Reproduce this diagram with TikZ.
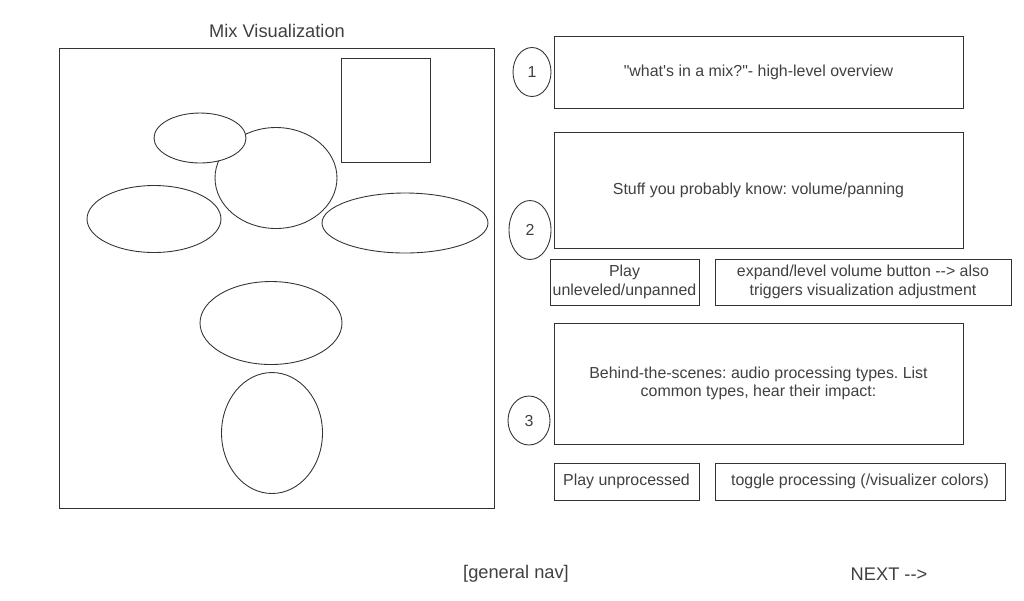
\documentclass[tikz,border=0pt]{standalone}
\usepackage{fontspec}
\setmainfont{Liberation Sans}[Ligatures=TeXOff]
\usetikzlibrary{shapes.geometric}
\definecolor{ink}{RGB}{51,51,51}
\definecolor{txt}{RGB}{64,64,64}
\frenchspacing
\begin{document}
\begin{tikzpicture}[x=0.02cm,y=-0.02cm,
  every node/.style={font=\fontsize{9.07pt}{10.6pt}\selectfont\frenchspacing, text=txt},
  big/.style={font=\fontsize{10.4pt}{12pt}\selectfont},
  box/.style={draw=ink, line width=0.5pt, rectangle, inner sep=0pt, align=center},
  oval/.style={draw=ink, line width=0.5pt, ellipse, inner sep=0pt, fill=white},
  lbl/.style={inner sep=0pt, align=center}]
\useasboundingbox (0,0) rectangle (1024,600);
% left panel
\node[lbl, big] (title) at (277,31) {Mix Visualization};
\node[draw=ink, line width=0.5pt, minimum width=8.7cm, minimum height=9.2cm, inner sep=0pt] (panel) at (276.5,278) {};
\node[draw=ink, line width=0.5pt, minimum width=1.78cm, minimum height=2.08cm, inner sep=0pt] (sq) at (385.5,110) {};
\node[oval, minimum width=2.44cm, minimum height=2.02cm] (bigc) at (276,178) {};
\node[oval, minimum width=1.84cm, minimum height=1.0cm] (small) at (200,138) {};
\node[oval, minimum width=2.68cm, minimum height=1.34cm] (left) at (154,219) {};
\node[oval, minimum width=3.32cm, minimum height=1.2cm] (right) at (405,223) {};
\node[oval, minimum width=2.84cm, minimum height=1.66cm] (mid) at (271,323) {};
\node[oval, minimum width=2.02cm, minimum height=2.42cm] (bot) at (272,433) {};
% right side
\node[oval, minimum width=0.76cm, minimum height=0.98cm] (c1) at (532,72) {1};
\node[box, minimum width=8.18cm, minimum height=1.44cm] (b1) at (758.5,72) {"what's in a mix?"- high-level overview};
\node[box, minimum width=8.18cm, minimum height=2.32cm] (b2) at (758.5,190) {Stuff you probably know: volume/panning};
\node[oval, minimum width=0.84cm, minimum height=1.18cm] (c2) at (530,230) {2};
\node[box, minimum width=2.98cm, minimum height=0.92cm] (play1) at (624.5,282) {Play\\unleveled/unpanned};
\node[box, minimum width=5.92cm, minimum height=0.92cm] (exp) at (863,282) {expand/level volume button --> also\\triggers visualization adjustment};
\node[box, minimum width=8.18cm, minimum height=2.42cm] (b3) at (758.5,383.5) {Behind-the-scenes: audio processing types. List\\common types, hear their impact:};
\node[oval, minimum width=0.84cm, minimum height=0.98cm] (c3) at (529,420.5) {3};
\node[box, minimum width=2.9cm, minimum height=0.74cm] (play2) at (626.5,481.5) {Play unprocessed};
\node[box, minimum width=5.8cm, minimum height=0.74cm] (tog) at (860,481.5) {toggle processing (/visualizer colors)};
\node[lbl, big] (nav) at (516,574) {[general nav]};
\node[lbl, big] (next) at (889,574) {NEXT -->};
\end{tikzpicture}
\end{document}
